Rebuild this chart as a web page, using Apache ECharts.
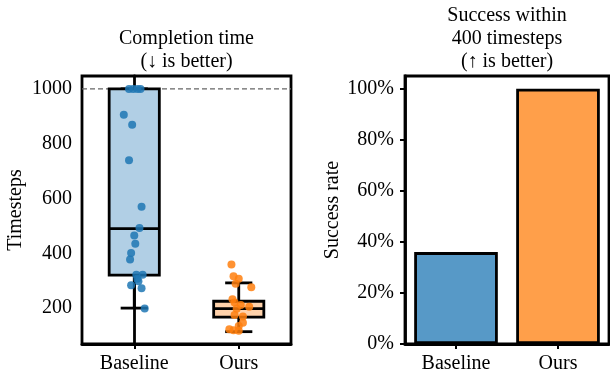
<!DOCTYPE html>
<html>
<head>
<meta charset="utf-8">
<script src="https://cdn.jsdelivr.net/npm/echarts@6/dist/echarts.min.js"></script>
<style>html,body{margin:0;padding:0;background:#fff;}#c{width:610px;height:379px;}</style>
</head>
<body>
<div id="c"></div>
<script>
// ---- Data ----
const categories = ['Baseline', 'Ours'];
// completion time samples (timesteps) with horizontal jitter (category units)
const baselineTimes  = [1000, 1000, 1000, 1000, 906, 869, 740, 570, 492, 465, 435, 401, 377, 322, 322, 307, 298, 283, 272, 199];
const baselineJitter = [-0.05, -0.01, 0.03, 0.06, -0.10, -0.02, -0.05, 0.07, 0.05, 0.00, 0.01, -0.03, -0.04, 0.02, 0.08, 0.03, 0.04, -0.03, 0.07, 0.10];
const oursTimes  = [359, 316, 307, 289, 276, 232, 220, 211, 205, 198, 175, 169, 147, 135, 123, 119, 117];
const oursJitter = [-0.07, -0.05, 0.00, -0.03, 0.12, -0.06, -0.04, 0.02, 0.10, -0.02, -0.04, 0.04, 0.04, 0.00, -0.09, -0.05, 0.00];
// box statistics: [whiskerLow, Q1, median, Q3, whiskerHigh]
const baselineBox = [200, 320, 490, 1000, 1000];
const oursBox     = [114, 167, 198, 225, 292];
// success rate within 400 timesteps (%)
const successRate = [36, 100];
// tick labels
const timeTicks = [200, 400, 600, 800, 1000];
const rateTicks = [0, 20, 40, 60, 80, 100];
const timeoutLine = 1000;

// ---- Styles ----
const FONT = 'Liberation Serif';
const FS = 20;
const LW = 2.8;
const pointColors = ['#1f77b4', '#ff7f0e'];
const boxFills = ['#b1cfe5', '#ffd2ab'];
const barColors = ['#5799c7', '#ff9f4a'];

const chart = echarts.init(document.getElementById('c'), null, {renderer: 'canvas'});

const tickStyle = {show: true, inside: false, length: 5, lineStyle: {color: '#000', width: 2}};
const lineStyleAxis = {show: true, lineStyle: {color: '#000', width: LW}};
const labelStyle = {color: '#000', fontFamily: FONT, fontSize: FS};

const scatterBaseline = baselineTimes.map((v, i) => [0 + baselineJitter[i], v]);
const scatterOurs = oursTimes.map((v, i) => [1 + oursJitter[i], v]);
const boxData = [[0].concat(baselineBox), [1].concat(oursBox)];

function renderBox(params, api) {
  const x = api.value(0);
  const lo = api.value(1), q1 = api.value(2), med = api.value(3), q3 = api.value(4), hi = api.value(5);
  const w = api.size([0.48, 0])[0];
  const cw = api.size([0.26, 0])[0];
  const pLo = api.coord([x, lo]), pQ1 = api.coord([x, q1]), pMed = api.coord([x, med]);
  const pQ3 = api.coord([x, q3]), pHi = api.coord([x, hi]);
  const cx = pQ1[0];
  const st = {stroke: '#000', lineWidth: LW};
  return {
    type: 'group',
    children: [
      {type: 'line', shape: {x1: cx, y1: pQ1[1], x2: cx, y2: pLo[1]}, style: st},
      {type: 'line', shape: {x1: cx, y1: pQ3[1], x2: cx, y2: pHi[1]}, style: st},
      {type: 'line', shape: {x1: cx - cw / 2, y1: pLo[1], x2: cx + cw / 2, y2: pLo[1]}, style: st},
      {type: 'line', shape: {x1: cx - cw / 2, y1: pHi[1], x2: cx + cw / 2, y2: pHi[1]}, style: st},
      {type: 'rect', shape: {x: cx - w / 2, y: pQ3[1], width: w, height: pQ1[1] - pQ3[1]},
       style: {fill: boxFills[params.dataIndex], stroke: '#000', lineWidth: LW}},
      {type: 'line', shape: {x1: cx - w / 2, y1: pMed[1], x2: cx + w / 2, y2: pMed[1]}, style: st}
    ]
  };
}

const titleFont = FS + 'px "' + FONT + '"';
const option = {
  animation: false,
  backgroundColor: '#fff',
  graphic: [
    {type: 'text', x: 186.5, y: 38.5, style: {text: 'Completion time', font: titleFont, align: 'center', verticalAlign: 'middle', fill: '#000'}},
    {type: 'text', x: 186.5, y: 61.5, style: {text: '(\u2193 is better)', font: titleFont, align: 'center', verticalAlign: 'middle', fill: '#000'}},
    {type: 'text', x: 507, y: 15.5, style: {text: 'Success within', font: titleFont, align: 'center', verticalAlign: 'middle', fill: '#000'}},
    {type: 'text', x: 507, y: 38.5, style: {text: '400 timesteps', font: titleFont, align: 'center', verticalAlign: 'middle', fill: '#000'}},
    {type: 'text', x: 507, y: 61.5, style: {text: '(\u2191 is better)', font: titleFont, align: 'center', verticalAlign: 'middle', fill: '#000'}}
  ],
  grid: [
    {left: 82, top: 76, width: 209, height: 268, show: true, borderColor: '#000', borderWidth: LW, backgroundColor: 'transparent'},
    {left: 405, top: 76, width: 204, height: 268, show: true, borderColor: '#000', borderWidth: LW, backgroundColor: 'transparent'}
  ],
  xAxis: [
    {type: 'category', gridIndex: 0, data: categories, axisLine: lineStyleAxis,
     axisTick: Object.assign({alignWithLabel: true}, tickStyle), axisLabel: Object.assign({margin: 10}, labelStyle), splitLine: {show: false}},
    {type: 'value', gridIndex: 0, min: -0.5, max: 1.5, show: false},
    {type: 'category', gridIndex: 1, data: categories, axisLine: lineStyleAxis,
     axisTick: Object.assign({alignWithLabel: true}, tickStyle), axisLabel: Object.assign({margin: 10}, labelStyle), splitLine: {show: false}}
  ],
  yAxis: [
    {type: 'value', gridIndex: 0, min: 69, max: 1047,
     name: 'Timesteps', nameLocation: 'middle', nameGap: 56, nameRotate: 90,
     nameTextStyle: {color: '#000', fontFamily: FONT, fontSize: FS},
     axisLine: lineStyleAxis,
     axisTick: Object.assign({customValues: timeTicks}, tickStyle),
     axisLabel: Object.assign({customValues: timeTicks, margin: 10, formatter: function (v) { return String(v); }}, labelStyle),
     splitLine: {show: false}},
    {type: 'value', gridIndex: 1, min: 0, max: 105,
     name: 'Success rate', nameLocation: 'middle', nameGap: 62, nameRotate: 90,
     nameTextStyle: {color: '#000', fontFamily: FONT, fontSize: FS},
     axisLine: lineStyleAxis,
     axisTick: Object.assign({customValues: rateTicks}, tickStyle),
     axisLabel: Object.assign({customValues: rateTicks, margin: 11, formatter: function (v) { return v + '%'; }}, labelStyle),
     splitLine: {show: false}}
  ],
  series: [
    {type: 'line', xAxisIndex: 1, yAxisIndex: 0, data: [[-0.5, timeoutLine], [1.5, timeoutLine]],
     symbol: 'none', lineStyle: {color: '#666666', width: 1.3, type: [5, 3]}, z: 1, silent: true},
    {type: 'custom', xAxisIndex: 1, yAxisIndex: 0, data: boxData, renderItem: renderBox, z: 2, silent: true},
    {type: 'scatter', xAxisIndex: 1, yAxisIndex: 0, data: scatterBaseline, symbolSize: 8,
     itemStyle: {color: pointColors[0], opacity: 0.85}, z: 3},
    {type: 'scatter', xAxisIndex: 1, yAxisIndex: 0, data: scatterOurs, symbolSize: 8,
     itemStyle: {color: pointColors[1], opacity: 0.85}, z: 3},
    {type: 'bar', xAxisIndex: 2, yAxisIndex: 1, barWidth: '82%',
     data: successRate.map((v, i) => ({value: v, itemStyle: {color: barColors[i]}})),
     itemStyle: {borderColor: '#000', borderWidth: LW}, z: 2}
  ]
};
chart.setOption(option);
</script>
</body>
</html>
